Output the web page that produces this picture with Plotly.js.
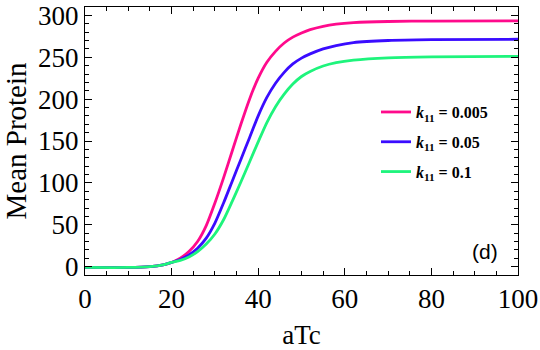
<!DOCTYPE html>
<html>
<head>
<meta charset="utf-8">
<script src="https://cdn.plot.ly/plotly-3.0.1.min.js"></script>
<style>
  html, body { margin: 0; padding: 0; background: #fff; }
  #chart { width: 540px; height: 350px; }
</style>
</head>
<body>
<div id="chart"></div>
<script>
const aTc = [0, 10, 15, 18, 20, 22, 24, 26, 28, 30, 32, 34, 36, 38, 40, 42, 44, 46, 48, 50, 52, 55, 58, 62, 70, 80, 100];

// mean protein for each k11
const k005 = [-1, -1, 0, 2, 5, 10, 18, 30, 49, 76, 106, 138, 170, 200, 225, 244, 257, 267, 274, 279, 283, 287, 289.5, 291.3, 292.7, 293.2, 293.5];
const k05  = [-1, -1, 0, 2, 5, 8.5, 14, 22, 34, 52, 76, 102, 128, 154, 180, 202, 219, 232, 242, 249, 254, 260, 264, 267.5, 270, 271, 271.5];
const k1   = [-1, -1, 0, 2, 5, 7.5, 11.5, 18, 27, 39, 56, 78, 101, 125, 149, 172, 191, 206, 218, 227, 233, 239.5, 243.5, 246.5, 249.3, 250.5, 251];

const names = ["0.005", "0.05", "0.1"];
const colors = ["#ff0a8c", "#3a0cff", "#1ef47c"];
const series = [k005, k05, k1];

const data = series.map((ys, i) => ({
    x: aTc,
    y: ys,
    type: "scatter",
    mode: "lines",
    line: { color: colors[i], width: 2.8, shape: "spline", smoothing: 0.7 },
    name: "<b><i>k</i><sub>11</sub> = " + names[i] + "</b>",
    legendgroup: "g" + i
}));

const serif = "Liberation Serif, Times New Roman, serif";

const axisCommon = {
    showline: true,
    linecolor: "#000",
    linewidth: 1,
    mirror: "ticks",
    ticks: "inside",
    ticklen: 7,
    tickcolor: "#000",
    showgrid: false,
    zeroline: false,
    tickfont: { family: serif, size: 27, color: "#000" }
};

const layout = {
    width: 540,
    height: 350,
    margin: { l: 85, r: 22, t: 7, b: 75 },
    paper_bgcolor: "#fff",
    plot_bgcolor: "#fff",
    showlegend: true,
    legend: {
        x: 0.672, y: 0.496, xanchor: "left", yanchor: "middle",
        bgcolor: "rgba(0,0,0,0)",
        traceorder: "grouped",
        tracegroupgap: 6,
        font: { family: serif, size: 16, color: "#000" }
    },
    xaxis: Object.assign({}, axisCommon, {
        range: [0, 100],
        dtick: 20,
        minor: { dtick: 5, ticks: "inside", ticklen: 4, tickcolor: "#000", showgrid: false },
        title: { text: "aTc", font: { family: serif, size: 27, color: "#000" }, standoff: 15 }
    }),
    yaxis: Object.assign({}, axisCommon, {
        range: [-10, 310],
        dtick: 50,
        minor: { dtick: 10, ticks: "inside", ticklen: 4, tickcolor: "#000", showgrid: false },
        title: { text: "Mean Protein", font: { family: serif, size: 29, color: "#000" }, standoff: 4 }
    }),
    annotations: [{
        text: "(d)",
        xref: "paper", yref: "paper",
        x: 0.924, y: 0.088,
        xanchor: "center", yanchor: "middle",
        showarrow: false,
        font: { family: "Liberation Sans, Arial, sans-serif", size: 21, color: "#000" }
    }]
};

Plotly.newPlot("chart", data, layout, { displayModeBar: false, staticPlot: true });
</script>
</body>
</html>
